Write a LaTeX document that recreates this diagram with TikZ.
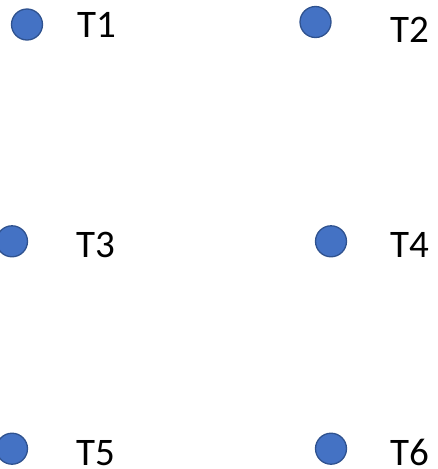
\documentclass[tikz,border=0pt]{standalone}
\usepackage{fontspec}
\setmainfont{Carlito}
\definecolor{dotfill}{HTML}{4472C4}
\definecolor{dotline}{HTML}{2F528F}
\begin{document}
\begin{tikzpicture}[x=1pt,y=-1pt,
  dot/.style={circle,fill=dotfill,draw=dotline,line width=1.3pt,minimum size=31pt,inner sep=0pt},
  lab/.style={anchor=base west,inner sep=0pt,font=\fontsize{39}{40}\selectfont}]
\useasboundingbox (0,0) rectangle (437,469);
\node[dot] (c1) at (27,24.5) {};
\node[dot] (c2) at (315.5,22) {};
\node[dot] (c3) at (12,241.3) {};
\node[dot] (c4) at (331,241.3) {};
\node[dot] (c5) at (12,448.7) {};
\node[dot] (c6) at (331,448.7) {};
\node[lab] (t1) at (77,37.7) {T1};
\node[lab] (t2) at (390,42.7) {T2};
\node[lab] (t3) at (76,257.7) {T3};
\node[lab] (t4) at (390,257.7) {T4};
\node[lab] (t5) at (76,465) {T5};
\node[lab] (t6) at (390,465) {T6};
\end{tikzpicture}
\end{document}
